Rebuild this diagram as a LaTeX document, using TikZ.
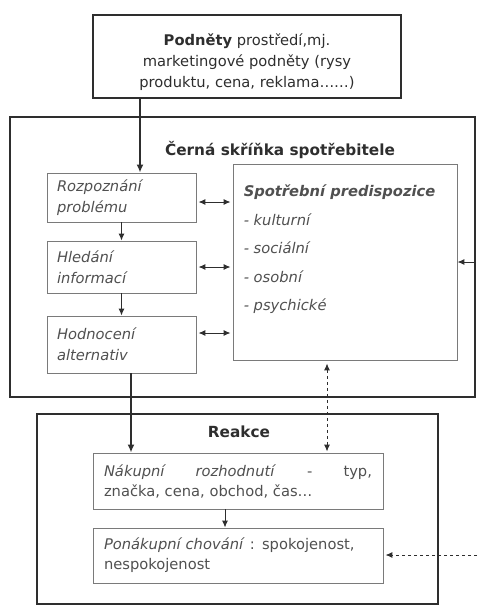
\documentclass[tikz,border=0pt]{standalone}
\usepackage{fontspec}
\setmainfont{DejaVu Sans}
\usetikzlibrary{arrows.meta}
\definecolor{ink}{HTML}{2E2E2E}
\definecolor{soft}{HTML}{505050}
\definecolor{edge}{HTML}{7A7A7A}
\begin{document}
\begin{tikzpicture}[x=1pt,y=-1pt,
    font=\fontsize{14.7}{21}\selectfont,
    >={Latex[length=7pt,width=6pt]},
    outer/.style={draw=ink, line width=2pt, text=ink},
    inner/.style={draw=edge, line width=0.9pt, text=soft, inner ysep=0pt, inner xsep=10pt, align=left},
    title/.style={text=ink, font=\fontsize{15.3}{21}\selectfont\bfseries},
    heavy/.style={draw=ink, line width=2.6pt, ->, >={Latex[length=8pt,width=7pt]}},
    light/.style={draw=ink, line width=1pt, ->}]
    \useasboundingbox (0,0) rectangle (477,605);
    % stimuli
    \node[outer, minimum width=308pt, minimum height=83pt, align=center] (podnety) at (247,56.5)
        {\rule{0pt}{24pt}\textbf{Podněty} prostředí,mj.\\marketingové podněty (rysy\\produktu, cena, reklama……)};
    % black box
    \node[outer, minimum width=465pt, minimum height=280pt] (skrinka) at (242.5,257) {};
    \node[title] (skrinkaT) at (280,150) {Černá skříňka spotřebitele};
    \node[inner, text width=129pt, minimum height=49pt] (rp) at (121.5,197.5) {\itshape Rozpoznání\\\itshape problému};
    \node[inner, text width=129pt, minimum height=52pt] (hi) at (121.5,267) {\itshape Hledání\\\itshape informací};
    \node[inner, text width=129pt, minimum height=57pt] (ha) at (121.5,344.5) {\itshape Hodnocení\\\itshape alternativ};
    \node[inner, minimum width=224pt, minimum height=196pt] (sp) at (345,262) {};
    \node[anchor=north west, text=soft, align=left, inner sep=0pt, font=\fontsize{14.7}{28.5}\selectfont\itshape]
        (spT) at ([xshift=11pt,yshift=-21pt]sp.north west)
        {\textbf{Spotřební predispozice}\\- kulturní\\- sociální\\- osobní\\- psychické};
    \draw[light] (rp) -- (hi);
    \draw[light] (hi) -- (ha);
    \foreach \n/\y in {rp/202,hi/267,ha/333}
        \draw[light, <->, shorten <=2pt, shorten >=2pt] (\n.east |- 0,\y) -- (sp.west |- 0,\y);
    \draw[light] (skrinka.east |- 0,262) -- (sp.east |- 0,262);
    \draw[heavy] (podnety.south -| 140,0) -- (rp.north -| 140,0);
    % reaction
    \node[outer, minimum width=401pt, minimum height=190pt] (reakce) at (237.5,509) {};
    \node[title] (reakceT) at (239,432) {Reakce};
    \node[inner, inner xsep=11pt, text width=268pt, minimum height=56pt, align=justify,
        font=\fontsize{14.7}{20}\selectfont] (nak) at (238,481)
        {\textit{Nákupní rozhodnutí} - typ,\linebreak značka, cena, obchod, čas…};
    \node[inner, inner xsep=11pt, text width=268pt, minimum height=55pt, align=left,
        font=\fontsize{14.7}{20}\selectfont] (pon) at (238,555.5)
        {\textit{Ponákupní chování} : spokojenost,\\nespokojenost};
    \draw[light] (nak.south -| 225,0) -- (pon.north -| 225,0);
    \draw[heavy] (ha.south -| 131,0) -- (nak.north -| 131,0);
    \draw[light, dashed, <->, shorten <=3pt, shorten >=1pt] (sp.south -| 327,0) -- (nak.north -| 327,0);
    \coordinate (vne) at (477,555);
    \draw[light, dashed, shorten >=2pt] (vne) -- (pon.east |- vne);
\end{tikzpicture}
\end{document}
